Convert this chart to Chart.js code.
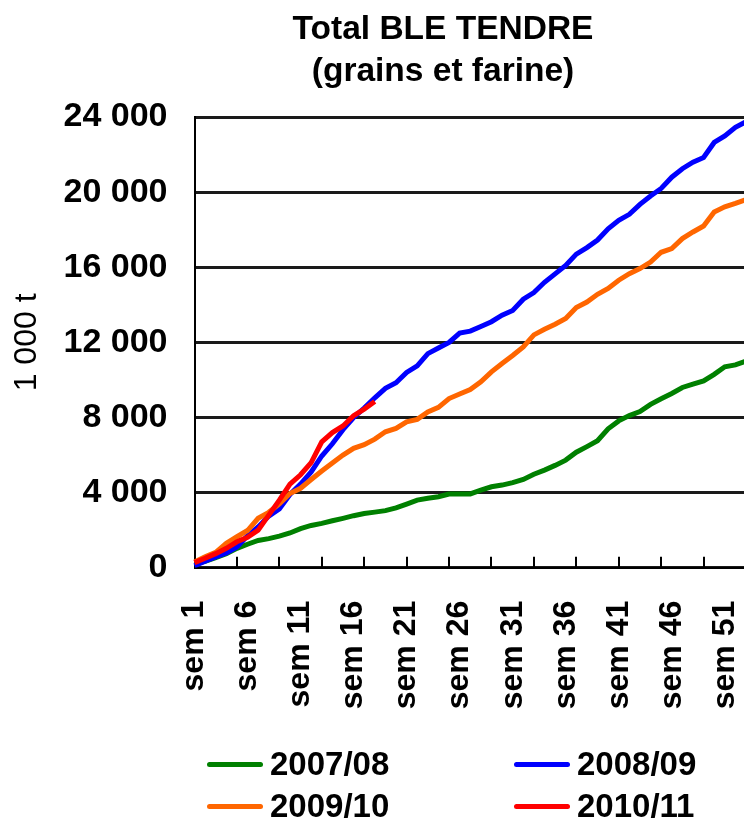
<!DOCTYPE html>
<html>
<head>
<meta charset="utf-8">
<script src="https://cdn.jsdelivr.net/npm/chart.js@4/dist/chart.umd.min.js"></script>
<style>
  html, body { margin: 0; padding: 0; background: #fff; overflow: hidden; }
  #wrap { position: relative; width: 744px; height: 823px; overflow: hidden; background: #fff; }
  #c { position: absolute; left: 0; top: 0; }
  .leg { position: absolute; height: 40px; display: flex; align-items: center;
         font-family: 'Liberation Sans', Arial, sans-serif; font-weight: bold; font-size: 33px; color: #000; white-space: nowrap; }
  .sw { display: inline-block; width: 56px; height: 5px; border-radius: 3px; margin-right: 7px; }
</style>
</head>
<body>
<div id="wrap">
  <canvas id="c" width="886" height="823" style="width:886px;height:823px"></canvas>
</div>
<script>
const categories = ['sem 1','sem 2','sem 3','sem 4','sem 5','sem 6','sem 7','sem 8','sem 9','sem 10',
  'sem 11','sem 12','sem 13','sem 14','sem 15','sem 16','sem 17','sem 18','sem 19','sem 20',
  'sem 21','sem 22','sem 23','sem 24','sem 25','sem 26','sem 27','sem 28','sem 29','sem 30',
  'sem 31','sem 32','sem 33','sem 34','sem 35','sem 36','sem 37','sem 38','sem 39','sem 40',
  'sem 41','sem 42','sem 43','sem 44','sem 45','sem 46','sem 47','sem 48','sem 49','sem 50',
  'sem 51','sem 52','sem 53'];
const shownTicks = ['sem 1','sem 6','sem 11','sem 16','sem 21','sem 26','sem 31','sem 36','sem 41','sem 46','sem 51'];
const yTickLabels = ['0','4 000','8 000','12 000','16 000','20 000','24 000'];

const seriesNames = ['2007/08','2008/09','2009/10','2010/11'];
const seriesColors = ['#008000','#0000ff','#ff6600','#ff0000'];

const s2007 = [200,340,530,740,1030,1250,1450,1550,1680,1850,
  2080,2250,2360,2500,2630,2770,2890,2960,3040,3190,
  3390,3600,3700,3780,3920,3930,3930,4130,4310,4400,
  4530,4700,4980,5200,5450,5730,6150,6450,6760,7400,
  7820,8100,8320,8700,9000,9280,9600,9780,9950,10300,
  10700,10800,11000];
const s2008 = [100,350,580,780,1100,1700,2170,2750,3130,3900,
  4450,5100,5950,6600,7350,8000,8500,9050,9550,9850,
  10400,10750,11400,11700,12000,12500,12600,12850,13100,13450,
  13700,14300,14650,15200,15650,16100,16700,17050,17450,18050,
  18500,18820,19350,19800,20200,20800,21250,21600,21850,22650,
  23000,23450,23750];
const s2009 = [300,580,820,1300,1650,1980,2630,2950,3400,3950,
  4230,4700,5150,5580,6000,6360,6550,6850,7240,7420,
  7770,7900,8300,8540,9010,9250,9490,9900,10430,10880,
  11300,11760,12400,12700,12970,13270,13860,14150,14560,14870,
  15310,15660,15930,16280,16800,17000,17530,17880,18200,18950,
  19220,19400,19600];
const s2010 = [270,500,750,1030,1380,1620,2000,2800,3600,4450,
  4950,5600,6700,7200,7550,8100,8450,8850];

const seriesData = [s2007, s2008, s2009, s2010];
const drawOrder = [3, 2, 1, 0];
const tickMarkEvery = 4;

const FONT = "'Liberation Sans', Arial, sans-serif";

// inward tick marks on the category axis, placed by the x scale itself
const innerTicks = {
  id: 'innerTicks',
  afterDraw(chart) {
    const xs = chart.scales.x;
    const ctx = chart.ctx;
    const n = chart.data.labels.length;
    ctx.save();
    ctx.strokeStyle = '#000000';
    ctx.lineWidth = 2;
    ctx.beginPath();
    for (let i = tickMarkEvery; i < n; i += tickMarkEvery) {
      const px = Math.round(xs.getPixelForValue(i));
      const base = chart.chartArea.bottom;
      ctx.moveTo(px, base);
      ctx.lineTo(px, base - 11);
    }
    ctx.stroke();
    ctx.restore();
  }
};

new Chart(document.getElementById('c'), {
  type: 'line',
  data: {
    labels: categories,
    datasets: seriesNames.map((n, k) => ({
      label: n,
      data: seriesData[k],
      borderColor: seriesColors[k],
      backgroundColor: seriesColors[k],
      borderWidth: 5,
      pointRadius: 0,
      tension: 0,
      fill: false,
      order: drawOrder[k],
      xAxisID: 'x',
      yAxisID: 'y'
    }))
  },
  plugins: [innerTicks],
  options: {
    responsive: false,
    animation: false,
    devicePixelRatio: 1,
    layout: { padding: 0 },
    plugins: {
      legend: { display: false },
      tooltip: { enabled: false },
      title: {
        display: true,
        text: ['Total BLE TENDRE', '(grains et farine)'],
        color: '#000',
        font: { family: FONT, size: 33.5, weight: 'bold', lineHeight: 1.27 },
        padding: { top: 8, bottom: 24 }
      }
    },
    scales: {
      x: {
        type: 'category',
        grid: {
          display: false,
          drawTicks: false
        },
        border: { display: true, color: '#000', width: 2 },
        ticks: {
          autoSkip: false,
          maxRotation: 90,
          minRotation: 90,
          padding: 33,
          color: '#000',
          font: { family: FONT, size: 32, weight: 'bold' },
          callback: function(value, index) {
            const lab = categories[index];
            return shownTicks.includes(lab) ? lab : '';
          }
        },
        afterFit: (scale) => { scale.height = 823 - 567.7; scale.paddingLeft = 0; scale.paddingRight = 0; }
      },
      y: {
        position: 'left',
        min: 0,
        max: 24000,
        grid: {
          color: '#1a1a1a',
          lineWidth: 3,
          drawTicks: false
        },
        border: { display: true, color: '#000', width: 2 },
        ticks: {
          stepSize: 4000,
          padding: 27,
          color: '#000',
          font: { family: FONT, size: 34, weight: 'bold' },
          callback: function(value, index) { return yTickLabels[index]; }
        },
        title: {
          display: true,
          text: '1 000 t',
          color: '#000',
          font: { family: FONT, size: 32, weight: 'normal' },
          padding: { top: 8, bottom: 0 }
        },
        afterFit: (scale) => { scale.width = 194.5; }
      },
      rightSpace: {
        type: 'linear',
        position: 'right',
        display: true,
        grid: { display: false, drawTicks: false },
        border: { display: false },
        ticks: { display: false },
        afterFit: (scale) => { scale.width = 140; }
      }
    }
  }
});

// HTML legend built from the series arrays
const legendPos = [
  { left: 207, top: 744 },
  { left: 514, top: 744 },
  { left: 207, top: 786 },
  { left: 514, top: 786 }
];
const wrap = document.getElementById('wrap');
seriesNames.forEach((n, k) => {
  const d = document.createElement('div');
  d.className = 'leg';
  d.style.left = legendPos[k].left + 'px';
  d.style.top = legendPos[k].top + 'px';
  const sw = document.createElement('span');
  sw.className = 'sw';
  sw.style.background = seriesColors[k];
  const t = document.createElement('span');
  t.textContent = n;
  d.appendChild(sw);
  d.appendChild(t);
  wrap.appendChild(d);
});
</script>
</body>
</html>
